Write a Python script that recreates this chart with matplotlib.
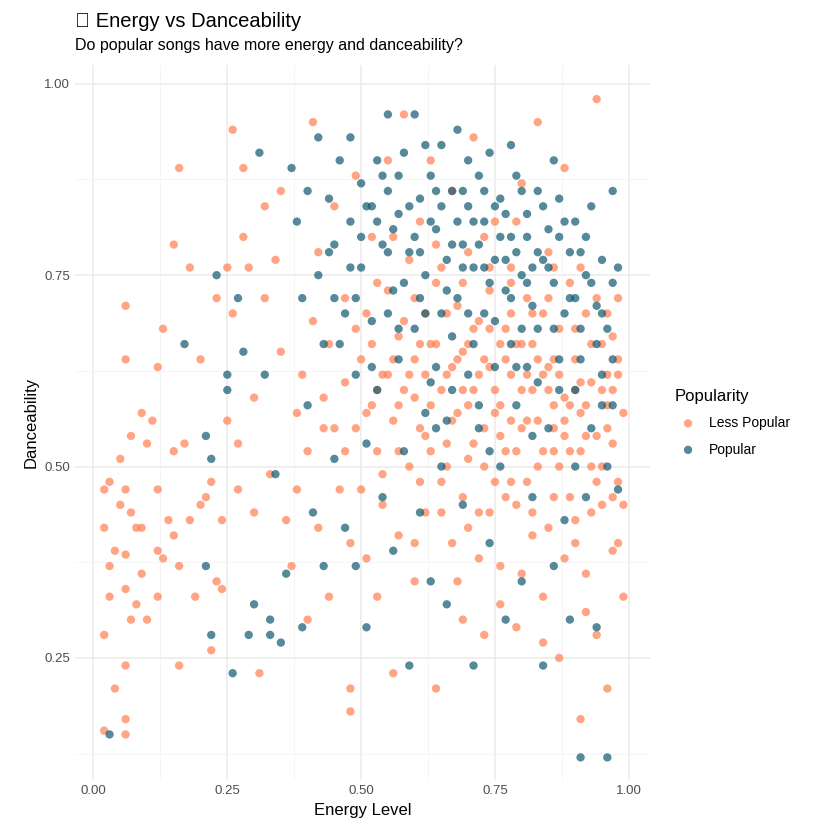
import matplotlib
matplotlib.use("Agg")
import matplotlib.pyplot as plt

plt.rcParams['font.family'] = ['Liberation Sans', 'DejaVu Sans']

less_popular = [
(0.02,0.47),(0.02,0.42),(0.03,0.48),(0.02,0.28),(0.03,0.33),(0.03,0.37),(0.04,0.39),(0.04,0.21),(0.02,0.155),
(0.05,0.51),(0.05,0.45),(0.06,0.71),(0.06,0.64),(0.06,0.47),(0.06,0.385),(0.06,0.34),(0.06,0.24),(0.06,0.17),
(0.06,0.15),(0.07,0.54),(0.07,0.44),(0.07,0.30),(0.08,0.42),(0.08,0.32),(0.09,0.42),(0.09,0.36),(0.09,0.57),
(0.10,0.53),(0.10,0.30),(0.11,0.56),(0.12,0.63),(0.12,0.47),(0.12,0.39),(0.12,0.33),(0.13,0.68),(0.13,0.38),
(0.14,0.43),(0.15,0.79),(0.15,0.52),(0.15,0.41),(0.16,0.89),(0.16,0.37),(0.16,0.24),(0.17,0.53),(0.18,0.76),
(0.18,0.43),(0.19,0.33),(0.20,0.64),(0.20,0.45),(0.21,0.46),(0.22,0.26),(0.22,0.48),(0.23,0.35),(0.23,0.72),
(0.24,0.34),(0.24,0.43),(0.25,0.56),(0.25,0.76),(0.26,0.94),(0.26,0.70),(0.27,0.53),(0.27,0.47),(0.28,0.89),
(0.28,0.80),(0.29,0.76),(0.30,0.59),(0.30,0.44),(0.31,0.23),(0.32,0.72),(0.32,0.84),(0.33,0.49),(0.34,0.77),
(0.35,0.86),(0.35,0.65),(0.36,0.43),(0.37,0.37),(0.38,0.57),(0.38,0.47),(0.39,0.62),(0.40,0.30),(0.40,0.52),
(0.41,0.69),(0.41,0.95),(0.42,0.42),(0.42,0.78),(0.43,0.59),(0.44,0.33),(0.44,0.66),(0.45,0.55),(0.45,0.84),
(0.46,0.47),(0.47,0.72),(0.47,0.61),(0.48,0.18),(0.48,0.21),(0.48,0.40),(0.49,0.55),(0.49,0.88),(0.50,0.64),
(0.50,0.47),(0.51,0.38),(0.51,0.70),(0.52,0.58),(0.52,0.80),(0.53,0.52),(0.53,0.33),(0.54,0.62),(0.54,0.45),
(0.55,0.73),(0.55,0.90),(0.56,0.56),(0.56,0.23),(0.57,0.67),(0.57,0.41),(0.58,0.60),(0.58,0.96),(0.59,0.50),
(0.59,0.77),(0.60,0.35),(0.60,0.64),(0.61,0.55),(0.61,0.82),(0.62,0.70),(0.62,0.44),(0.63,0.58),(0.63,0.90),
(0.64,0.21),(0.64,0.66),(0.65,0.48),(0.65,0.76),(0.66,0.53),(0.66,0.62),(0.67,0.86),(0.67,0.40),(0.68,0.71),
(0.68,0.57),(0.69,0.30),(0.69,0.65),(0.70,0.51),(0.70,0.78),(0.71,0.60),(0.71,0.93),(0.72,0.44),(0.72,0.69),
(0.73,0.55),(0.73,0.28),(0.74,0.73),(0.74,0.63),(0.75,0.48),(0.75,0.82),(0.76,0.58),(0.76,0.37),(0.77,0.68),
(0.77,0.52),(0.78,0.76),(0.78,0.62),(0.79,0.29),(0.79,0.45),(0.80,0.66),(0.80,0.87),(0.81,0.56),(0.81,0.72),
(0.82,0.41),(0.82,0.60),(0.83,0.95),(0.83,0.50),(0.84,0.70),(0.84,0.33),(0.85,0.63),(0.85,0.78),(0.86,0.55),
(0.86,0.46),(0.87,0.68),(0.87,0.25),(0.88,0.59),(0.88,0.89),(0.89,0.52),(0.89,0.74),(0.90,0.43),(0.90,0.64),
(0.91,0.17),(0.91,0.57),(0.92,0.70),(0.92,0.36),(0.93,0.50),(0.93,0.61),(0.94,0.98),(0.94,0.28),(0.95,0.66),
(0.95,0.45),(0.96,0.55),(0.96,0.21),(0.97,0.60),(0.97,0.39),(0.98,0.48),(0.98,0.72),(0.99,0.33),(0.99,0.57),
(0.52,0.66),(0.55,0.62),(0.58,0.69),(0.62,0.62),(0.64,0.74),(0.66,0.70),(0.68,0.64),(0.70,0.58),(0.72,0.62),
(0.74,0.68),(0.76,0.66),(0.78,0.56),(0.80,0.60),(0.82,0.66),(0.84,0.62),(0.86,0.64),(0.88,0.54),(0.90,0.60),
(0.92,0.58),(0.94,0.54),(0.96,0.62),(0.60,0.59),(0.63,0.52),(0.67,0.56),(0.71,0.53),(0.75,0.57),(0.79,0.52),
(0.83,0.56),(0.87,0.50),(0.91,0.52),(0.95,0.50),(0.57,0.52),(0.61,0.48),(0.65,0.44),(0.69,0.46),(0.73,0.50),
(0.77,0.46),(0.81,0.48),(0.85,0.42),(0.89,0.46),(0.93,0.44),(0.97,0.46),(0.72,0.38),(0.80,0.36),(0.88,0.38),
(0.84,0.27),(0.92,0.31),(0.76,0.32),(0.68,0.35),(0.60,0.40),(0.54,0.49),(0.47,0.52),(0.43,0.55),(0.53,0.74),
(0.49,0.68),(0.56,0.80),(0.60,0.72),(0.64,0.79),(0.69,0.74),(0.73,0.80),(0.79,0.82),(0.85,0.72),(0.91,0.76),
(0.96,0.70),(0.98,0.64),(0.97,0.53),(0.86,0.58),(0.78,0.70),(0.70,0.66),(0.63,0.66),(0.57,0.58),(0.51,0.57),
(0.53,0.60),(0.56,0.64),(0.59,0.62),(0.61,0.66),(0.65,0.60),(0.67,0.63),(0.69,0.60),(0.71,0.68),(0.73,0.64),
(0.75,0.60),(0.77,0.64),(0.79,0.66),(0.81,0.62),(0.83,0.64),(0.85,0.60),(0.87,0.62),(0.89,0.58),(0.91,0.61),
(0.93,0.66),(0.95,0.60),(0.97,0.67),(0.76,0.54),(0.80,0.55),(0.84,0.52),(0.88,0.56),(0.92,0.54),(0.96,0.58),
(0.74,0.76),(0.78,0.74),(0.82,0.70),(0.86,0.76),(0.90,0.68),(0.94,0.72),(0.98,0.62),(0.99,0.45),(0.98,0.40),
(0.94,0.48),(0.90,0.40),(0.86,0.52),(0.82,0.44),(0.78,0.48),(0.74,0.44),(0.70,0.42),(0.66,0.50),(0.62,0.54),
]

popular = [
(0.03,0.15),(0.17,0.66),(0.21,0.54),(0.21,0.37),(0.22,0.28),(0.22,0.51),(0.23,0.75),(0.25,0.62),(0.25,0.60),
(0.26,0.23),(0.27,0.72),(0.28,0.65),(0.29,0.28),(0.30,0.32),(0.31,0.91),(0.32,0.62),(0.33,0.28),(0.33,0.30),
(0.34,0.49),(0.35,0.27),(0.36,0.36),(0.37,0.89),(0.38,0.82),(0.39,0.72),(0.39,0.29),(0.40,0.86),(0.40,0.58),
(0.41,0.44),(0.42,0.93),(0.42,0.75),(0.43,0.66),(0.43,0.37),(0.44,0.85),(0.45,0.79),(0.45,0.51),(0.46,0.90),
(0.47,0.70),(0.47,0.42),(0.48,0.82),(0.48,0.93),(0.49,0.62),(0.49,0.37),(0.50,0.87),(0.50,0.76),(0.51,0.53),
(0.51,0.29),(0.52,0.84),(0.52,0.69),(0.53,0.90),(0.53,0.60),(0.54,0.79),(0.54,0.46),(0.55,0.86),(0.55,0.96),
(0.56,0.73),(0.56,0.39),(0.57,0.83),(0.57,0.64),(0.58,0.91),(0.58,0.52),(0.59,0.78),(0.59,0.24),(0.60,0.96),
(0.60,0.68),(0.61,0.85),(0.61,0.44),(0.62,0.75),(0.62,0.57),(0.63,0.88),(0.63,0.35),(0.64,0.81),(0.64,0.63),
(0.65,0.92),(0.65,0.50),(0.66,0.77),(0.66,0.32),(0.67,0.86),(0.67,0.60),(0.68,0.72),(0.68,0.94),(0.69,0.79),
(0.69,0.45),(0.70,0.84),(0.70,0.62),(0.71,0.76),(0.71,0.24),(0.72,0.88),(0.72,0.55),(0.73,0.70),(0.73,0.82),
(0.74,0.91),(0.74,0.40),(0.75,0.77),(0.75,0.63),(0.76,0.85),(0.76,0.50),(0.77,0.73),(0.77,0.30),(0.78,0.80),
(0.78,0.66),(0.79,0.88),(0.79,0.58),(0.80,0.75),(0.80,0.35),(0.81,0.83),(0.81,0.63),(0.82,0.71),(0.82,0.46),
(0.83,0.86),(0.83,0.68),(0.84,0.77),(0.84,0.24),(0.85,0.81),(0.85,0.55),(0.86,0.74),(0.86,0.37),(0.87,0.85),
(0.87,0.64),(0.88,0.70),(0.88,0.43),(0.89,0.78),(0.89,0.30),(0.90,0.82),(0.90,0.60),(0.91,0.12),(0.91,0.68),
(0.92,0.75),(0.92,0.46),(0.93,0.84),(0.93,0.55),(0.94,0.71),(0.94,0.29),(0.95,0.77),(0.95,0.62),(0.96,0.12),
(0.96,0.68),(0.97,0.86),(0.97,0.58),(0.98,0.76),(0.98,0.47),(0.56,0.81),(0.60,0.80),(0.64,0.86),(0.68,0.82),
(0.72,0.79),(0.76,0.80),(0.80,0.86),(0.84,0.84),(0.88,0.82),(0.92,0.80),(0.58,0.74),(0.62,0.70),(0.66,0.73),
(0.70,0.70),(0.74,0.74),(0.78,0.72),(0.82,0.76),(0.86,0.68),(0.90,0.72),(0.94,0.66),(0.63,0.61),(0.71,0.66),
(0.79,0.63),(0.87,0.60),(0.95,0.58),(0.52,0.63),(0.54,0.88),(0.62,0.92),(0.70,0.90),(0.78,0.92),(0.86,0.90),
(0.57,0.68),(0.67,0.67),(0.75,0.69),(0.83,0.61),(0.91,0.64),(0.97,0.64),(0.66,0.56),(0.74,0.52),(0.82,0.54),
(0.90,0.50),(0.96,0.50),(0.45,0.72),(0.48,0.76),(0.50,0.80),(0.46,0.66),
(0.51,0.84),(0.53,0.82),(0.55,0.78),(0.57,0.88),(0.59,0.84),(0.61,0.78),(0.63,0.82),(0.65,0.84),(0.67,0.79),
(0.69,0.86),(0.71,0.82),(0.73,0.86),(0.75,0.84),(0.77,0.83),(0.79,0.78),(0.81,0.80),(0.83,0.78),(0.85,0.76),
(0.87,0.80),(0.89,0.72),(0.91,0.78),(0.93,0.74),(0.95,0.70),(0.97,0.74),(0.69,0.76),(0.73,0.76),(0.77,0.77),
(0.81,0.74),(0.65,0.70),(0.61,0.72),(0.55,0.70),(0.49,0.72),(0.44,0.78),(0.64,0.55),(0.72,0.58),(0.80,0.68),
]

lx = [p[0] for p in less_popular]; ly = [p[1] for p in less_popular]
px = [p[0] for p in popular]; py = [p[1] for p in popular]

fig = plt.figure(figsize=(8.4, 8.4), dpi=100)
ax = fig.add_axes([0.089, 0.071, 0.685, 0.852])
c_less = "#FF7F50"; c_pop = "#0F5870"
ax.scatter(lx, ly, s=36, color=c_less, alpha=0.7, edgecolors="none", label="Less Popular")
ax.scatter(px, py, s=36, color=c_pop, alpha=0.7, edgecolors="none", label="Popular")
ax.set_xlim(-0.035, 1.04)
ax.set_ylim(0.09, 1.025)
ax.set_xticks([0, 0.25, 0.5, 0.75, 1.0])
ax.set_xticklabels(["0.00", "0.25", "0.50", "0.75", "1.00"])
ax.set_yticks([0.25, 0.5, 0.75, 1.0])
ax.set_yticklabels(["0.25", "0.50", "0.75", "1.00"])
ax.set_xticks([0.125, 0.375, 0.625, 0.875], minor=True)
ax.set_yticks([0.125, 0.375, 0.625, 0.875], minor=True)
ax.grid(which="major", color="#EBEBEB", linewidth=1.1)
ax.grid(which="minor", color="#F4F4F4", linewidth=0.6)
ax.set_axisbelow(True)
for s in ax.spines.values():
    s.set_visible(False)
ax.tick_params(which="both", length=0, labelsize=9.5, labelcolor="#4D4D4D")
ax.set_xlabel("Energy Level", fontsize=12)
ax.set_ylabel("Danceability", fontsize=12)
fig.text(0.089, 0.968, "\U0001F57A Energy vs Danceability", fontsize=14.5, ha="left", va="baseline")
fig.text(0.089, 0.940, "Do popular songs have more energy and danceability?", fontsize=11.5, ha="left", va="baseline")
leg = ax.legend(loc="center left", bbox_to_anchor=(1.02, 0.5), frameon=False, title="Popularity",
                fontsize=10, title_fontsize=12, markerscale=1.0, handletextpad=0.5, labelspacing=0.9)
leg._legend_box.align = "left"
fig.savefig("out.png", dpi=100, facecolor="white")
